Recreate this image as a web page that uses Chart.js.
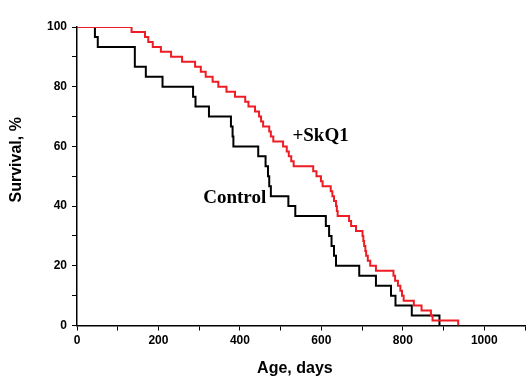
<!DOCTYPE html>
<html><head><meta charset="utf-8">
<script src="https://cdn.jsdelivr.net/npm/chart.js@4.4.1/dist/chart.umd.min.js"></script>
<style>html,body{margin:0;padding:0;background:#fff}#wrap{width:528px;height:385px;position:relative}</style>
</head><body><div id="wrap"><canvas id="c" width="528" height="385"></canvas></div>
<script>
// Control group: step times (days) and survival (%) after each step
const controlDays = [0,44,51,142,169,210,285,291,324,378,382,384,445,463,469,472,476,519,536,611,619,625,631,636,693,734,771,782,822,890];
const controlSurvival = [100,96.67,93.33,86.67,83.33,80,76.67,73.33,70,66.67,63.33,60,56.67,53.33,50,46.67,43.33,40,36.67,33.33,30,26.67,23.33,20,16.67,13.33,10,6.67,3.33,0];
// +SkQ1 group
const skq1Days = [0,134,167,175,186,206,231,258,290,304,316,333,347,367,388,413,421,437,447,452,457,472,476,482,506,515,520,526,532,580,588,599,603,623,627,631,636,638,640,668,673,685,701,703,705,708,710,714,720,734,777,781,788,794,798,802,827,846,869,873,936];
const skq1Survival = [100,98.33,96.67,95,93.33,91.67,90,88.33,86.67,85,83.33,81.67,80,78.33,76.67,75,73.33,71.67,70,68.33,66.67,65,63.33,61.67,60,58.33,56.67,55,53.33,51.67,50,48.33,46.67,45,43.33,41.67,40,38.33,36.67,35,33.33,31.67,30,28.33,26.67,25,23.33,21.67,20,18.33,16.67,15,13.33,11.67,10,8.33,6.67,5,3.33,1.67,0];
const seriesNames = ['Control','+SkQ1'];
const xTitle = 'Age, days', yTitle = 'Survival, %';
const xLabelEvery = 200, xMinorStep = 100, xMax = 1100, xLastLabel = 1000;
const yLabelEvery = 20, yMinorStep = 10;
// text annotations (anchored in data units)
const notes = [
  {text:'+SkQ1', day:529, pct:63.6},
  {text:'Control', day:310, pct:42.7}
];

const tickFont = {family:'"Liberation Sans", Arial, sans-serif', weight:'bold', size:12};

const notePlugin = {
  id:'notes',
  afterDraw(chart){
    const {ctx, scales:{x,y}} = chart;
    ctx.save();
    ctx.font = 'bold 19px "Liberation Serif", "Times New Roman", serif';
    ctx.fillStyle = '#000';
    ctx.textBaseline = 'middle';
    ctx.textAlign = 'left';
    notes.forEach(n => ctx.fillText(n.text, x.getPixelForValue(n.day), y.getPixelForValue(n.pct)));
    // axis titles
    ctx.font = 'bold 16px "Liberation Sans", Arial, sans-serif';
    ctx.textAlign = 'center';
    ctx.fillText(xTitle, x.getPixelForValue(535), 369);
    ctx.translate(17, y.getPixelForValue(55.5));
    ctx.rotate(-Math.PI/2);
    ctx.fillText(yTitle, 0, 0);
    ctx.restore();
  }
};

new Chart(document.getElementById('c'), {
  type:'line',
  data:{datasets:[
    {label:seriesNames[0], data:controlDays.map((d,i)=>({x:d,y:controlSurvival[i]})), borderColor:'#000000', borderWidth:2, stepped:'before', pointRadius:0, fill:false, order:1},
    {label:seriesNames[1], data:skq1Days.map((d,i)=>({x:d,y:skq1Survival[i]})), borderColor:'#ee1c24', borderWidth:2, stepped:'before', pointRadius:0, fill:false, order:0}
  ]},
  options:{
    responsive:false, animation:false, devicePixelRatio:1,
    layout:{padding:{top:27, right:3, left:0, bottom:0}},
    plugins:{legend:{display:false}, tooltip:{enabled:false}},
    scales:{
      x:{type:'linear', min:0, max:xMax,
        ticks:{stepSize:xMinorStep, autoSkip:false, maxRotation:0, color:'#000', font:tickFont, padding:3,
          callback:v => (v % xLabelEvery === 0 && v <= xLastLabel) ? String(v) : ''},
        grid:{display:true, drawOnChartArea:false, drawTicks:true, tickLength:5, color:'#000', lineWidth:1},
        border:{display:true, color:'#000', width:1.5},
        afterFit:s => { s.height = 59.5; }
      },
      y:{type:'linear', min:0, max:100,
        ticks:{stepSize:yMinorStep, autoSkip:false, color:'#000', font:tickFont, padding:5,
          callback:v => (v % yLabelEvery === 0) ? String(v) : ''},
        grid:{display:true, drawOnChartArea:false, drawTicks:true, tickLength:5, color:'#000', lineWidth:1},
        border:{display:true, color:'#000', width:1.5},
        afterFit:s => { s.width = 77; }
      }
    }
  },
  plugins:[notePlugin]
});
</script>
</body></html>
